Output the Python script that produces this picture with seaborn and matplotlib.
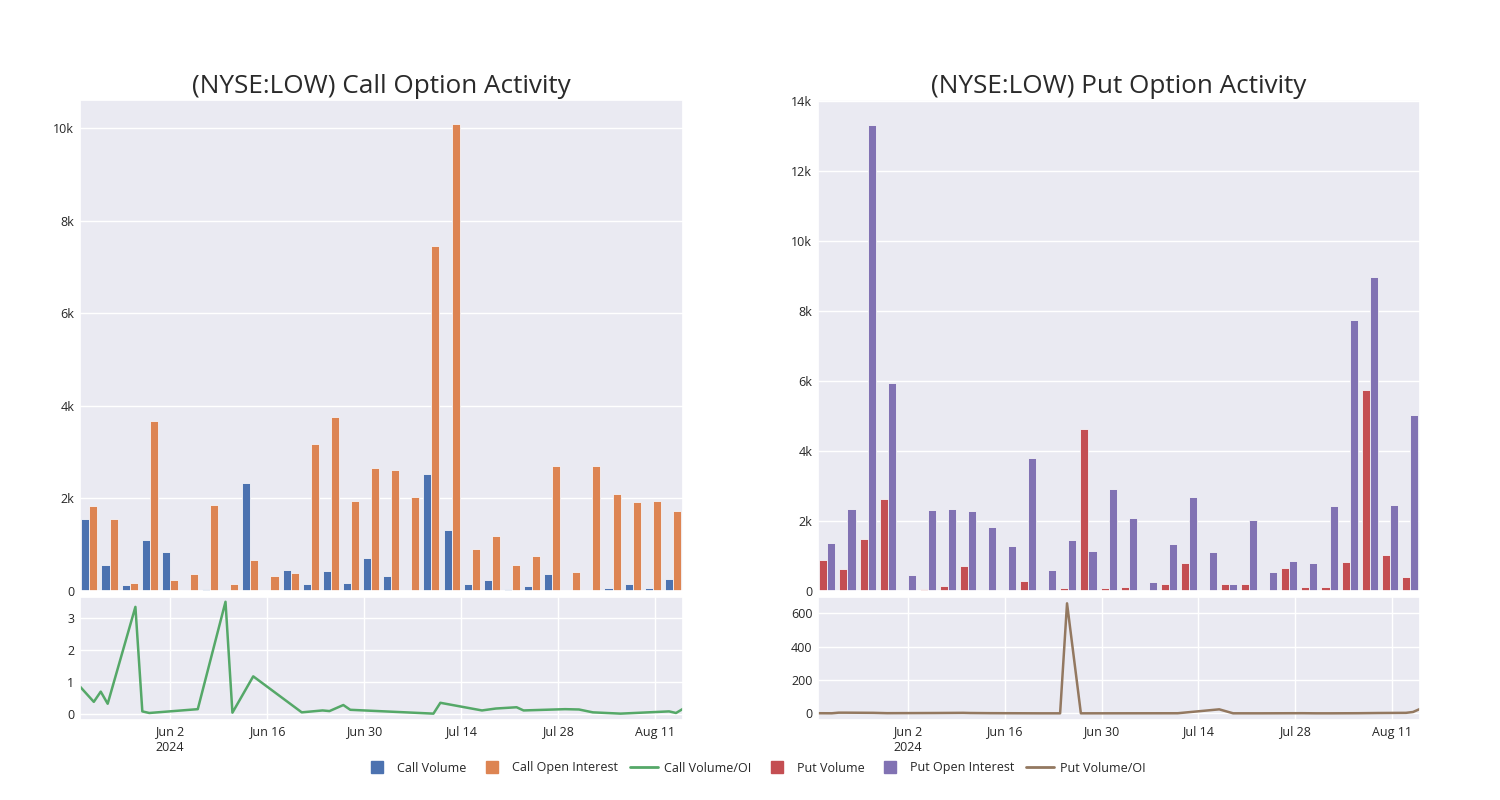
import numpy as np
import pandas as pd
import matplotlib
matplotlib.use("Agg")
import matplotlib.pyplot as plt
import matplotlib.ticker as mticker
from matplotlib.lines import Line2D
import seaborn as sns

# data
dates = ["2024-05-20", "2024-05-22", "2024-05-23", "2024-05-24", "2024-05-28",
         "2024-05-29", "2024-05-30", "2024-06-06", "2024-06-10", "2024-06-11",
         "2024-06-14", "2024-06-21", "2024-06-24", "2024-06-25", "2024-06-27",
         "2024-06-28", "2024-07-10", "2024-07-11", "2024-07-17", "2024-07-19",
         "2024-07-22", "2024-07-23", "2024-07-29", "2024-07-31", "2024-08-02",
         "2024-08-06", "2024-08-09", "2024-08-13", "2024-08-14", "2024-08-15"]

call_volume = [1550, 570, 125, 1095, 840, 22, 50, 15, 2330, 3, 450, 150, 435, 167, 717,
               333, 5, 2530, 1310, 145, 232, 51, 101, 362, 7, 5, 72, 152, 65, 254]
call_oi = [1830, 1565, 180, 3675, 248, 377, 1855, 160, 660, 320, 385, 3185, 3765, 1935, 2660,
           2625, 2035, 7450, 10100, 913, 1180, 565, 746, 2700, 413, 2700, 2095, 1930, 1940, 1725]
call_ratio = [0.85, 0.37, 0.69, 0.31, 3.35, 0.07, 0.02, 0.14, 3.51, 0.03, 1.17, 0.04, 0.10,
              0.08, 0.27, 0.12, 0.0, 0.34, 0.10, 0.16, 0.20, 0.10, 0.14, 0.13, 0.04, 0.0,
              0.03, 0.07, 0.02, 0.15]

put_volume = [900, 625, 1495, 2640, 5, 48, 145, 710, 38, 5, 288, 38, 86, 4640, 77,
              125, 0, 192, 786, 10, 192, 192, 38, 670, 115, 106, 825, 5740, 1035, 403]
put_oi = [1380, 2330, 13310, 5950, 470, 2310, 2340, 2273, 1842, 1295, 3798, 595, 1448, 1141, 2916,
          2091, 259, 1333, 2676, 1122, 192, 2043, 556, 844, 806, 2417, 7740, 8970, 2465, 5040]
put_ratio = [0.7, 0.3, 4, 4, 3, 2, 1, 2, 3, 2, 1, 0.1, 0.1, 660, 0.1,
             0.1, 0.5, 0.6, 24, 0.2, 0.1, 0.1, 0.8, 0.1, 0.1, 0.7, 2, 3, 8, 26]

colors = sns.color_palette("deep")
c_blue, c_orange, c_green, c_red, c_purple, c_brown = colors[0], colors[1], colors[2], colors[3], colors[4], colors[5]

sns.set_theme(style="darkgrid")
plt.rcParams["font.family"] = ["Open Sans", "DejaVu Sans"]

fig = plt.figure(figsize=(15, 8), dpi=100)

def kfmt(v, pos):
    if v == 0:
        return "0"
    return f"{v / 1000:g}k"

def draw_bars(ax, vol, oi, vname, oname, cv, co, ymax, ystep):
    df = pd.DataFrame({
        "date": dates * 2,
        "value": list(vol) + list(oi),
        "series": [vname] * len(vol) + [oname] * len(oi),
    })
    sns.barplot(data=df, x="date", y="value", hue="series", order=dates,
                palette=[cv, co], width=0.8, ax=ax, legend=False,
                edgecolor="#f4f4f8", linewidth=0.6, saturation=1)
    ax.set_xlim(-0.47, 29.5)
    ax.set_xticks([0, 5, 10, 15, 20, 25])
    ax.set_xticklabels([])
    ax.set_ylim(0, ymax)
    ax.set_yticks(np.arange(0, ymax, ystep))
    ax.yaxis.set_major_formatter(mticker.FuncFormatter(kfmt))
    ax.set_xlabel("")
    ax.set_ylabel("")
    ax.tick_params(axis="both", length=0, labelsize=9, pad=4)

def draw_line(ax, ratio, color, ylim, yticks):
    df = pd.DataFrame({"date": pd.to_datetime(dates), "ratio": ratio})
    sns.lineplot(data=df, x="date", y="ratio", color=color, linewidth=1.8, ax=ax)
    ax.set_xlim(pd.Timestamp("2024-05-20"), pd.Timestamp("2024-08-15"))
    ticks = pd.date_range("2024-06-02", periods=6, freq="14D")
    ax.set_xticks(ticks)
    labels = [t.strftime("%b ") + str(t.day) for t in ticks]
    labels[0] = labels[0] + "\n2024"
    ax.set_xticklabels(labels)
    ax.set_ylim(*ylim)
    ax.set_yticks(yticks)
    ax.set_xlabel("")
    ax.set_ylabel("")
    ax.tick_params(axis="both", length=0, labelsize=9, pad=4)

# call side
ax1 = fig.add_axes([0.0533, 0.26125, 0.402, 0.61375])
draw_bars(ax1, call_volume, call_oi, "Call Volume", "Call Open Interest", c_blue, c_orange, 10610, 2000)
ax1.set_title("(NYSE:LOW) Call Option Activity", fontsize=18.8, pad=5, color="#2a2a2a")

ax2 = fig.add_axes([0.0533, 0.10, 0.402, 0.15375])
draw_line(ax2, call_ratio, c_green, (-0.2, 3.66), [0, 1, 2, 3])

# put side
ax3 = fig.add_axes([0.5453, 0.26125, 0.4013, 0.61375])
draw_bars(ax3, put_volume, put_oi, "Put Volume", "Put Open Interest", c_red, c_purple, 14030, 2000)
ax3.set_title("(NYSE:LOW) Put Option Activity", fontsize=18.8, pad=5, color="#2a2a2a")

ax4 = fig.add_axes([0.5453, 0.10, 0.4013, 0.15375])
draw_line(ax4, put_ratio, c_brown, (-40, 698), [0, 200, 400, 600])

handles = [
    Line2D([], [], marker="s", linestyle="none", color=c_blue, markersize=8.5),
    Line2D([], [], marker="s", linestyle="none", color=c_orange, markersize=8.5),
    Line2D([], [], color=c_green, linewidth=2),
    Line2D([], [], marker="s", linestyle="none", color=c_red, markersize=8.5),
    Line2D([], [], marker="s", linestyle="none", color=c_purple, markersize=8.5),
    Line2D([], [], color=c_brown, linewidth=2),
]
names = ["Call Volume", "Call Open Interest", "Call Volume/OI",
         "Put Volume", "Put Open Interest", "Put Volume/OI"]
fig.legend(handles, names, loc="center", bbox_to_anchor=(0.503, 0.04), ncol=6,
           frameon=False, fontsize=9, handlelength=2.2, columnspacing=0.95, handletextpad=0.5)

fig.savefig("out.png", dpi=100)
